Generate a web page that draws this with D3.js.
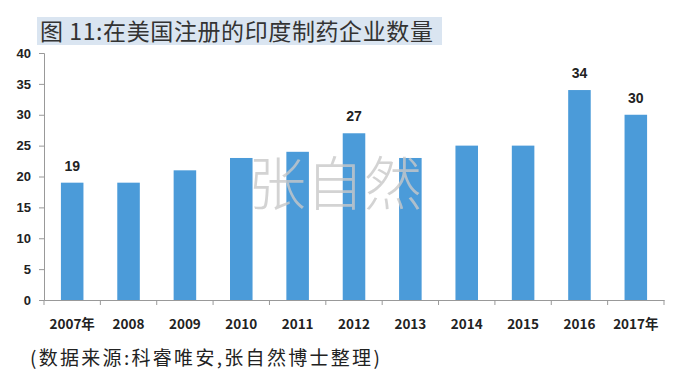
<!DOCTYPE html>
<html><head><meta charset="utf-8">
<script src="https://cdn.jsdelivr.net/npm/d3@7"></script>
<style>body{margin:0;background:#fff;} svg{display:block;}</style>
</head><body>
<svg id="c" width="677" height="376"></svg>
<script>
const categories = ["2007年","2008","2009","2010","2011","2012","2013","2014","2015","2016","2017年"];
const values = [19,19,21,23,24,27,23,25,25,34,30];
const labeled = [true,false,false,false,false,true,false,false,false,true,true];
const yTicks = [0,5,10,15,20,25,30,35,40];
const titleText = "图 11:在美国注册的印度制药企业数量";
const sourceText = "(数据来源:科睿唯安,张自然博士整理)";
const watermark = "张自然";

const svg = d3.select("#c");
const font = "'Noto Sans CJK SC', 'Noto Sans', sans-serif";
const x = d3.scaleBand().domain(categories).range([44, 664]).paddingInner(0.6).paddingOuter(0.3);
const y = d3.scaleLinear().domain([0,40]).range([300, 53]);

// title
const tg = svg.append("g");
tg.append("rect").attr("x",37).attr("y",17).attr("width",405).attr("height",28).attr("fill","#dae5f1");
tg.append("text").attr("x",40).attr("y",40).attr("font-family",font).attr("font-size",23)
  .attr("letter-spacing",0.6).attr("fill","#333").text(titleText);

// bars
svg.append("g").selectAll("rect").data(values).join("rect")
  .attr("x",(d,i)=>x(categories[i])).attr("width",x.bandwidth())
  .attr("y",d=>y(d)).attr("height",d=>y(0)-y(d)).attr("fill","#4b9bd9");

// watermark
svg.append("text").attr("x",335).attr("y",205).attr("text-anchor","middle")
  .attr("font-family",font).attr("font-weight",300).attr("font-size",58).attr("fill","#c8c8c8").attr("fill-opacity",0.8)
  .text(watermark);

// y axis
const ya = svg.append("g").attr("transform","translate(44,0)")
  .call(d3.axisLeft(y).tickValues(yTicks).tickSize(5).tickPadding(8));
ya.select(".domain").attr("stroke","#999");
ya.selectAll(".tick line").attr("stroke","#999");
ya.selectAll("text").attr("font-family","Arial, 'Liberation Sans', sans-serif").attr("font-weight","bold")
  .attr("font-size",13).attr("fill","#222");

// x axis
const xa = svg.append("g").attr("transform","translate(0,300)")
  .call(d3.axisBottom(x).tickSize(0).tickPadding(19));
xa.select(".domain").attr("stroke","#999");
xa.selectAll("text").attr("font-family",font).attr("font-weight","bold").attr("font-size",13.5).attr("fill","#222");
const bounds = d3.range(categories.length+1).map(i => 44 + i*(620/categories.length));
svg.append("g").selectAll("line").data(bounds).join("line")
  .attr("x1",d=>d).attr("x2",d=>d).attr("y1",300).attr("y2",305).attr("stroke","#999");

// data labels
svg.append("g").selectAll("text").data(values.map((v,i)=>({v,i})).filter(d=>labeled[d.i])).join("text")
  .attr("x",d=>x(categories[d.i])+x.bandwidth()/2).attr("y",d=>y(d.v)-12)
  .attr("text-anchor","middle").attr("font-family","Arial, 'Liberation Sans', sans-serif")
  .attr("font-weight","bold").attr("font-size",14).attr("fill","#222").text(d=>d.v);

// source
svg.append("text").attr("x",30).attr("y",365).attr("font-family",font).attr("font-size",19)
  .attr("letter-spacing",2.3).attr("fill","#222").text(sourceText);
</script>
</body></html>
